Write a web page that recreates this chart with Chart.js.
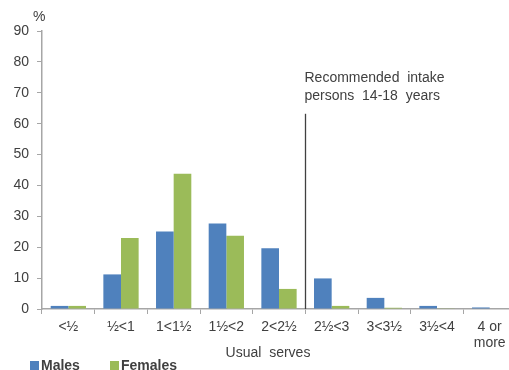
<!DOCTYPE html>
<html>
<head>
<meta charset="utf-8">
<script src="https://cdn.jsdelivr.net/npm/chart.js@4"></script>
<style>
  html,body{margin:0;padding:0;background:#fff;}
  #wrap{position:relative;width:509px;height:370px;overflow:hidden;}
</style>
</head>
<body>
<div id="wrap"><canvas id="c" width="520" height="370"></canvas></div>
<script>
  const categories = ['<½','½<1','1<1½','1½<2','2<2½','2½<3','3<3½','3½<4',['4 or','more']];
  const males   = [1.0, 11.2, 25.1, 27.7, 19.7, 9.9, 3.6, 1.0, 0.5];
  const females = [1.0, 23.0, 43.8, 23.7, 6.5, 1.0, 0.4, 0.1, 0];
  const yTicks = { min: 0, max: 90, step: 10 };
  const recLine = { at: 4.5, top: 63.2 };
  const recText = ['Recommended  intake', 'persons  14-18  years'];
  const seriesNames = ['Males', 'Females'];
  const colors = ['#4f81bd', '#9bbb59'];

  const font = "'Liberation Sans', Arial, sans-serif";
  const txt = '#404040';
  const axisCol = '#a6a6a6';

  // recommended intake line, texts, axis title and legend
  const extras = {
    id: 'extras',
    afterDatasetsDraw(chart){
      const {ctx, scales:{x, y}} = chart;
      const px = Math.round(x.getPixelForValue(recLine.at)) + 0.5;
      ctx.save();
      ctx.strokeStyle = '#404040';
      ctx.lineWidth = 1.3;
      ctx.beginPath();
      ctx.moveTo(px, y.getPixelForValue(recLine.top));
      ctx.lineTo(px, y.getPixelForValue(0));
      ctx.stroke();
      ctx.fillStyle = txt;
      ctx.font = '14px ' + font;
      ctx.textBaseline = 'alphabetic';
      ctx.fillText(recText[0], px - 1, 82);
      ctx.fillText(recText[1], px - 1, 100);
      ctx.fillText('%', 33, 21);
      ctx.textAlign = 'center';
      ctx.fillText('Usual  serves', 268, 357);
      // legend
      ctx.textAlign = 'left';
      ctx.font = 'bold 14px ' + font;
      const lx = [30, 110];
      seriesNames.forEach((n, i) => {
        ctx.fillStyle = colors[i];
        ctx.fillRect(lx[i], 361, 9, 9);
        ctx.fillStyle = txt;
        ctx.fillText(n, lx[i] + 11, 370);
      });
      ctx.restore();
    }
  };

  new Chart(document.getElementById('c'), {
    type: 'bar',
    data: {
      labels: categories,
      datasets: [
        { label: seriesNames[0], data: males, backgroundColor: colors[0], borderWidth: 0 },
        { label: seriesNames[1], data: females, backgroundColor: colors[1], borderWidth: 0 }
      ]
    },
    options: {
      responsive: false,
      animation: false,
      categoryPercentage: 0.67,
      barPercentage: 1,
      layout: { padding: { top: 31, right: 4, left: 0, bottom: 0 } },
      plugins: {
        legend: { display: false },
        tooltip: { enabled: false }
      },
      scales: {
        x: {
          afterFit(s){ s.height = 61; },
          grid: { display: true, drawOnChartArea: false, drawTicks: true, tickLength: 5, color: axisCol, offset: true },
          border: { color: axisCol, width: 1.5 },
          ticks: { color: txt, font: { family: font, size: 14, lineHeight: 1.15 }, maxRotation: 0, autoSkip: false, padding: 5 }
        },
        y: {
          min: yTicks.min, max: yTicks.max,
          afterFit(s){ s.width = 42; },
          grid: { display: true, drawOnChartArea: false, drawTicks: true, tickLength: 5, color: axisCol },
          border: { color: axisCol, width: 1.5 },
          ticks: { stepSize: yTicks.step, color: txt, font: { family: font, size: 14 }, padding: 8 }
        }
      }
    },
    plugins: [extras]
  });
</script>
</body>
</html>
